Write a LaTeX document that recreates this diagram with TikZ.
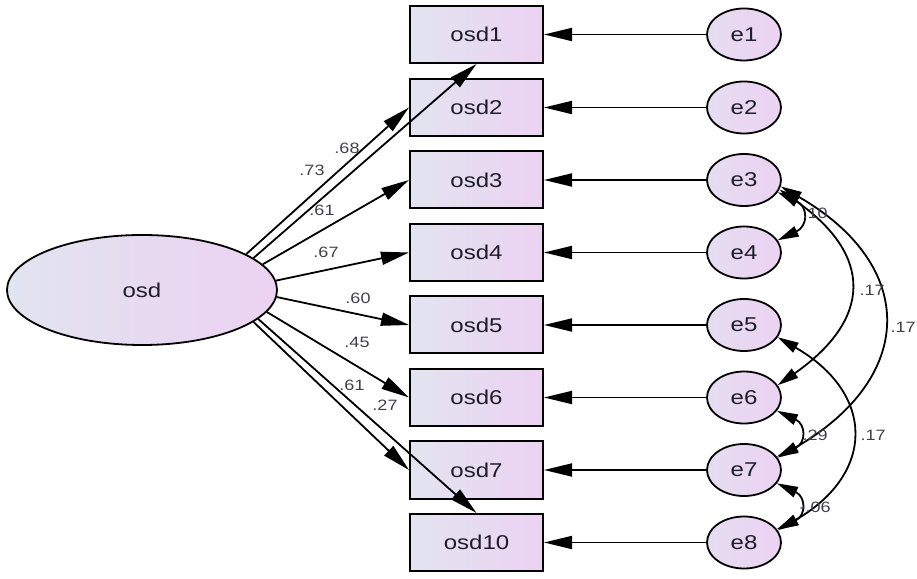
\documentclass[tikz,border=0pt]{standalone}
\usepackage{fontspec}
\setmainfont{Liberation Sans}[FakeStretch=1.2]
\usetikzlibrary{arrows.meta,shapes.geometric}
\definecolor{fillL}{RGB}{226,228,240}
\definecolor{fillR}{RGB}{236,210,242}
\definecolor{txt}{RGB}{30,30,42}
\begin{document}
\begin{tikzpicture}[x=1pt,y=1pt,
  obs/.style={rectangle, draw=black, line width=2pt, minimum width=133pt, minimum height=57pt,
    inner sep=0pt, left color=fillL, right color=fillR, text=txt, font=\fontsize{20}{24}\selectfont},
  err/.style={ellipse, draw=black, line width=1.8pt, minimum width=74pt, minimum height=52pt,
    inner sep=0pt, left color=fillL!60!fillR, right color=fillR, text=txt, font=\fontsize{20}{24}\selectfont},
  lat/.style={ellipse, draw=black, line width=1.8pt, minimum width=270pt, minimum height=110pt,
    inner sep=0pt, left color=fillL, right color=fillR, text=txt, font=\fontsize{20}{24}\selectfont},
  pth/.style={-{Triangle[length=28pt,width=13pt]}, line width=1.8pt},
  cov/.style={{Triangle[length=21pt,width=11pt]}-{Triangle[length=21pt,width=11pt]}, line width=1.8pt},
  lbl/.style={font=\fontsize{15}{18}\selectfont, text=txt!85, inner sep=0pt}
]
\useasboundingbox (0,0) rectangle (917,578);

% latent
\node[lat] (osd) at (142,288) {osd};

% observed
\node[obs] (osd1)  at (476.5,543.5) {osd1};
\node[obs] (osd2)  at (476.5,470.5) {osd2};
\node[obs] (osd3)  at (476.5,398)   {osd3};
\node[obs] (osd4)  at (476.5,325.5) {osd4};
\node[obs] (osd5)  at (476.5,253)   {osd5};
\node[obs] (osd6)  at (476.5,180.5) {osd6};
\node[obs] (osd7)  at (476.5,108)   {osd7};
\node[obs] (osd10) at (476.5,35.5)  {osd10};

% errors
\node[err] (e1) at (744,543.5) {e1};
\node[err] (e2) at (744,470.5) {e2};
\node[err] (e3) at (744,398)   {e3};
\node[err] (e4) at (744,325.5) {e4};
\node[err] (e5) at (744,253)   {e5};
\node[err] (e6) at (744,180.5) {e6};
\node[err] (e7) at (744,108)   {e7};
\node[err] (e8) at (744,35.5)  {e8};

% error paths
\foreach \e/\o in {e1/osd1,e2/osd2,e3/osd3,e4/osd4,e5/osd5,e6/osd6,e7/osd7,e8/osd10}
  \draw[pth] (\e.west) -- (\o.east);

% loadings
\draw[pth] (osd.16)  -- (osd1.south);
\draw[pth] (osd.19)  -- (osd2.west);
\draw[pth] (osd.12)  -- (osd3.west);
\draw[pth] (osd.4)   -- (osd4.west);
\draw[pth] (osd.-3)  -- (osd5.west);
\draw[pth] (osd.-10) -- (osd6.west);
\draw[pth] (osd.-16) -- (osd7.west);
\draw[pth] (osd.-14) -- (osd10.north);

% loading labels
\node[lbl] (l1) at (312,408) {.73};
\node[lbl] (l2) at (347,430) {.68};
\node[lbl] (l3) at (322,368) {.61};
\node[lbl] (l4) at (326,326) {.67};
\node[lbl] (l5) at (358,280) {.60};
\node[lbl] (l6) at (357,236) {.45};
\node[lbl] (l7) at (352,193) {.61};
\node[lbl] (l8) at (385,173) {.27};

% covariances
\draw[cov] (e3.-20) to[out=-25,in=25,looseness=1.8] (e4.20);
\draw[cov] (e3.-15) to[out=-35,in=35,looseness=1.5] (e6.20);
\draw[cov] (e3.-10) to[out=-30,in=30,looseness=1.5] (e7.20);
\draw[cov] (e5.-20) to[out=-30,in=30,looseness=1.5] (e8.20);
\draw[cov] (e6.-22) to[out=-25,in=25,looseness=1.8] (e7.22);
\draw[cov] (e7.-22) to[out=-25,in=25,looseness=1.8] (e8.22);

% covariance labels
\node[lbl] (c1) at (815,365) {.10};
\node[lbl] (c2) at (872,288) {.17};
\node[lbl] (c3) at (903,251) {.17};
\node[lbl] (c4) at (815,143) {.29};
\node[lbl] (c5) at (873,143) {.17};
\node[lbl] (c6) at (815,71)  {-.06};
\end{tikzpicture}
\end{document}
